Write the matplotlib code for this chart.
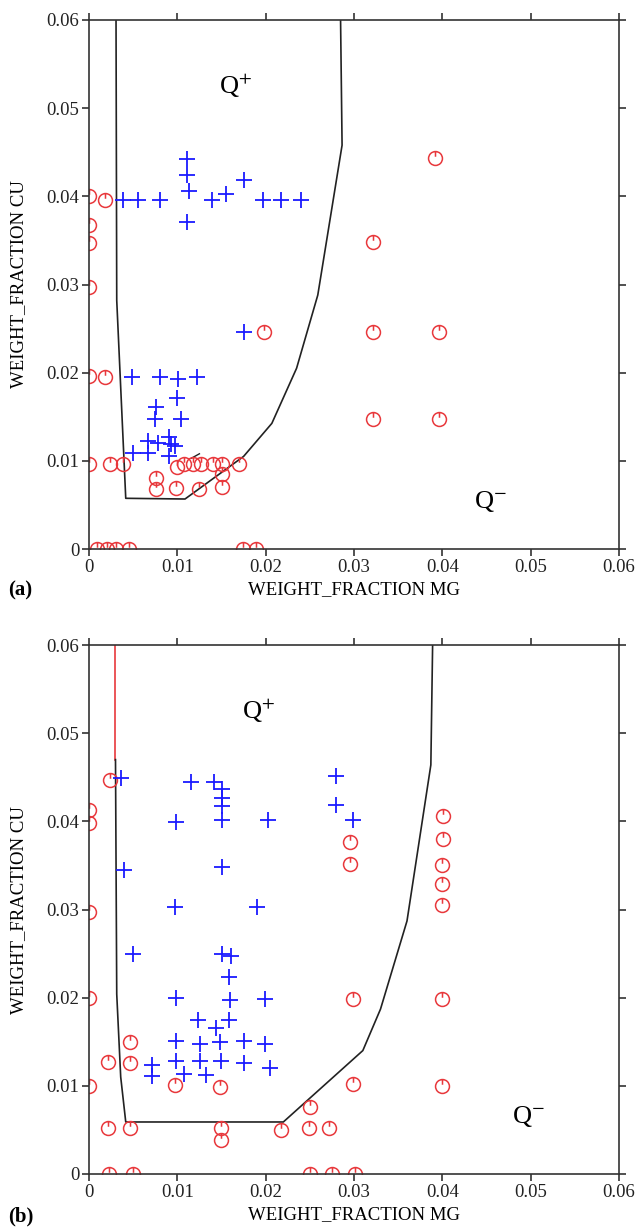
import matplotlib
matplotlib.use("Agg")
import matplotlib.pyplot as plt
from matplotlib.path import Path
import numpy as np

plt.rcParams['font.family'] = ['Liberation Serif', 'DejaVu Serif']
plt.rcParams['mathtext.fontset'] = 'stix'

# ---------------- data: panel (a) ----------------
red_a_x = [0, 0, 0, 0, 0, 0, 0.0018, 0.0018,
           0.0024, 0.0038, 0.0100, 0.0108, 0.0118, 0.01265, 0.0140, 0.0150, 0.0170,
           0.0150, 0.0076, 0.0076, 0.0099, 0.0125, 0.0150,
           0.0009, 0.0020, 0.0031, 0.0045, 0.0174, 0.0189,
           0.0198, 0.0392, 0.0321, 0.0322, 0.0396, 0.0322, 0.0396]
red_a_y = [0.0400, 0.0368, 0.0347, 0.0297, 0.0196, 0.0096, 0.0396, 0.0195,
           0.0096, 0.0096, 0.0093, 0.0096, 0.0096, 0.0096, 0.0096, 0.0096, 0.0096,
           0.0085, 0.0081, 0.0068, 0.00695, 0.0068, 0.0070,
           0, 0, 0, 0, 0, 0,
           0.0246, 0.0444, 0.0348, 0.0246, 0.0246, 0.0147, 0.0147]
blue_a_x = [0.0038, 0.0055, 0.0080, 0.0111, 0.0111, 0.0113, 0.0111, 0.0139, 0.0155,
            0.0176, 0.0197, 0.0217, 0.0240,
            0.0176,
            0.0049, 0.0080, 0.0101, 0.0122,
            0.0100, 0.0076, 0.0075, 0.0104,
            0.0067, 0.0078, 0.0090, 0.0093, 0.0097,
            0.0050, 0.0067, 0.0091]
blue_a_y = [0.0396, 0.0396, 0.0396, 0.0442, 0.0424, 0.0406, 0.0371, 0.0396, 0.0403,
            0.0419, 0.0396, 0.0396, 0.0396,
            0.0246,
            0.0195, 0.0195, 0.0193, 0.0195,
            0.0171, 0.0161, 0.0147, 0.0147,
            0.0122, 0.0120, 0.0127, 0.0119, 0.0117,
            0.0109, 0.0109, 0.0106]
bound_a_x = [0.00306, 0.00314, 0.00416, 0.01087, 0.0175, 0.0207, 0.0235, 0.0259, 0.02865, 0.02848]
bound_a_y = [0.0600, 0.0282, 0.00575, 0.00567, 0.0105, 0.01425, 0.0205, 0.0288, 0.0458, 0.0600]
stub_a_x = [0.0116, 0.0125]
stub_a_y = [0.0103, 0.0108]

# ---------------- data: panel (b) ----------------
red_b_x = [0.0024, 0, 0, 0, 0, 0,
           0.0296, 0.0296, 0.0401, 0.0401, 0.0400, 0.0400, 0.0400,
           0.0299, 0.0400, 0.0299, 0.0400,
           0.0046, 0.0022, 0.0046, 0.0097, 0.0148,
           0.0250, 0.0022, 0.0046, 0.0149, 0.0149, 0.0217, 0.0249, 0.0272,
           0.0023, 0.0050, 0.0250, 0.0275, 0.0301]
red_b_y = [0.0447, 0.0413, 0.0398, 0.0297, 0.0200, 0.0100,
           0.0376, 0.0352, 0.0406, 0.0380, 0.0350, 0.0329, 0.0305,
           0.0199, 0.0199, 0.0102, 0.0100,
           0.0150, 0.0127, 0.0126, 0.0101, 0.0099,
           0.0076, 0.0052, 0.0052, 0.0052, 0.0039, 0.0050, 0.0052, 0.0052,
           0, 0, 0, 0, 0]
blue_b_x = [0.0036, 0.0116, 0.0141, 0.0151, 0.0151, 0.0150, 0.0150, 0.0099, 0.0203,
            0.0280, 0.0280, 0.0299,
            0.0040, 0.0097, 0.0150, 0.0190,
            0.0050, 0.0150, 0.0161, 0.0159, 0.0160,
            0.0098, 0.0199,
            0.0123, 0.0159, 0.0144, 0.0098, 0.0126, 0.0148, 0.0175, 0.0199,
            0.0071, 0.0071, 0.0098, 0.0126, 0.0149, 0.0175, 0.0107, 0.0133, 0.0205]
blue_b_y = [0.0449, 0.0445, 0.0445, 0.0437, 0.0426, 0.0417, 0.0401, 0.0399, 0.0402,
            0.0451, 0.0418, 0.0401,
            0.0345, 0.0303, 0.0348, 0.0303,
            0.0250, 0.0250, 0.0247, 0.0223, 0.0197,
            0.0200, 0.0199,
            0.0175, 0.0175, 0.0166, 0.0151, 0.0147, 0.0150, 0.0151, 0.0148,
            0.0124, 0.0111, 0.0128, 0.0128, 0.0128, 0.0126, 0.0113, 0.0112, 0.0120]
redline_b_x = [0.0029, 0.0029]
redline_b_y = [0.0600, 0.0470]
bound_b_x = [0.0030, 0.00314, 0.00359, 0.00416, 0.0220, 0.0310, 0.0330, 0.0360, 0.0387, 0.0389]
bound_b_y = [0.0470, 0.0204, 0.0110, 0.0059, 0.0059, 0.0140, 0.0187, 0.0287, 0.0464, 0.0600]

ticks = [0, 0.01, 0.02, 0.03, 0.04, 0.05, 0.06]
tick_labels = ["0", "0.01", "0.02", "0.03", "0.04", "0.05", "0.06"]

# custom marker: circle with a small tick at the top
circ = Path.unit_circle()
tick = Path([(0, 1.0), (0, 0.25)], [Path.MOVETO, Path.LINETO])
power_marker = Path.make_compound_path(circ, tick)

RED = '#e8383c'
BLUE = '#1a1aff'

W, H = 639, 1228
fig = plt.figure(figsize=(W / 100, H / 100), dpi=100)

def px_box(x0, y0, x1, y1):
    return [x0 / W, 1 - y1 / H, (x1 - x0) / W, (y1 - y0) / H]

def style(ax):
    ax.set_xlim(0, 0.06)
    ax.set_ylim(0, 0.06)
    ax.set_xticks(ticks)
    ax.set_xticklabels(tick_labels)
    ax.set_yticks(ticks)
    ax.set_yticklabels(tick_labels)
    ax.tick_params(axis='both', which='both', direction='out', length=5, width=1.1,
                   labelsize=13.5, colors='#222222', top=True, right=True,
                   labeltop=False, labelright=False, pad=2)
    for s in ax.spines.values():
        s.set_linewidth(1.2)
        s.set_color('#333333')
    ax.set_xlabel('WEIGHT_FRACTION MG', fontsize=13.5, labelpad=4)
    ax.set_ylabel('WEIGHT_FRACTION CU', fontsize=13.5, labelpad=14)

ms = 10
# panel (a)
ax1 = fig.add_axes(px_box(89, 20, 619, 549))
style(ax1)
ax1.plot(bound_a_x, bound_a_y, color='#222222', lw=1.2)
ax1.plot(stub_a_x, stub_a_y, color='#222222', lw=1.0)
ax1.plot(red_a_x, red_a_y, linestyle='none', marker=power_marker, ms=ms,
         mfc='none', mec=RED, mew=1.1)
ax1.plot(blue_a_x, blue_a_y, linestyle='none', marker='+', ms=11, mec=BLUE, mew=1.3)
ax1.text(0.0166, 0.0525, r'Q$^{+}$', fontsize=19, ha='center', va='center')
ax1.text(0.0454, 0.0054, r'Q$^{-}$', fontsize=19, ha='center', va='center')
fig.text(8 / W, 1 - 590 / H, '(a)', fontsize=15, fontweight='bold', ha='left', va='center')

# panel (b)
ax2 = fig.add_axes(px_box(89, 645, 619, 1174))
style(ax2)
ax2.plot(redline_b_x, redline_b_y, color=RED, lw=1.2)
ax2.plot(bound_b_x, bound_b_y, color='#222222', lw=1.2)
ax2.plot(red_b_x, red_b_y, linestyle='none', marker=power_marker, ms=ms,
         mfc='none', mec=RED, mew=1.1)
ax2.plot(blue_b_x, blue_b_y, linestyle='none', marker='+', ms=11, mec=BLUE, mew=1.3)
ax2.text(0.0192, 0.0525, r'Q$^{+}$', fontsize=19, ha='center', va='center')
ax2.text(0.0497, 0.0065, r'Q$^{-}$', fontsize=19, ha='center', va='center')
fig.text(8 / W, 1 - 1216 / H, '(b)', fontsize=15, fontweight='bold', ha='left', va='center')

fig.savefig('out.png', dpi=100)
